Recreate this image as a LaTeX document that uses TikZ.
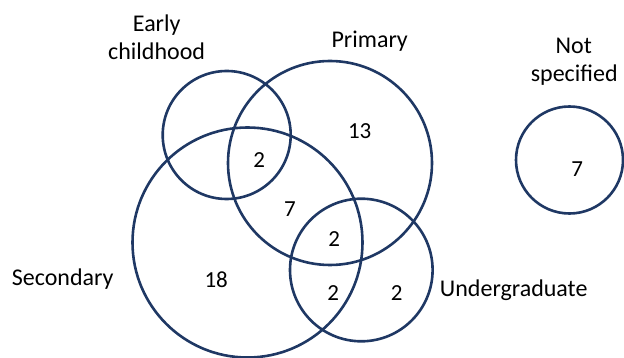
\documentclass[tikz,border=0pt]{standalone}
\usepackage{fontspec}
\setmainfont{Carlito}
\definecolor{navy}{RGB}{31,56,100}
\begin{document}
\begin{tikzpicture}[x=1pt,y=-1pt,
  setcircle/.style={circle,draw=navy,line width=2.6pt,inner sep=0pt,outer sep=0pt,minimum size=#1},
  lbl/.style={inner sep=0pt,anchor=base,font=\fontsize{24}{29}\selectfont},
  num/.style={inner sep=0pt,anchor=center,font=\fontsize{23}{27}\selectfont}]
\useasboundingbox (0,0) rectangle (624,358);
\node[setcircle=128pt] (early) at (226.7,135) {};
\node[setcircle=204pt] (primary) at (330,163) {};
\node[setcircle=230pt] (secondary) at (247.5,242.5) {};
\node[setcircle=142.6pt] (under) at (361.3,270) {};
\node[setcircle=107pt] (notspec) at (569.5,160) {};
% labels
\node[lbl] (earlyA) at (156.7,31.7) {Early};
\node[lbl] (earlyB) at (156.7,59.3) {childhood};
\node[lbl] (primlbl) at (369.7,47.3) {Primary};
\node[lbl] (notA) at (573.7,54) {Not};
\node[lbl] (notB) at (574.2,81.7) {specified};
\node[lbl] (seclbl) at (62.7,285) {Secondary};
\node[lbl] (underlbl) at (513.7,296.7) {Undergraduate};
% numbers
\node[num] (n13) at (359.7,131) {13};
\node[num] (nEPS) at (259.3,160.5) {2};
\node[num] (nPS) at (290,208.8) {7};
\node[num] (nPSU) at (334.2,238.8) {2};
\node[num] (n18) at (216.2,279.7) {18};
\node[num] (nSU) at (333.3,293.3) {2};
\node[num] (nU) at (396.7,293.3) {2};
\node[num] (nN) at (577.2,169.3) {7};
\end{tikzpicture}
\end{document}
